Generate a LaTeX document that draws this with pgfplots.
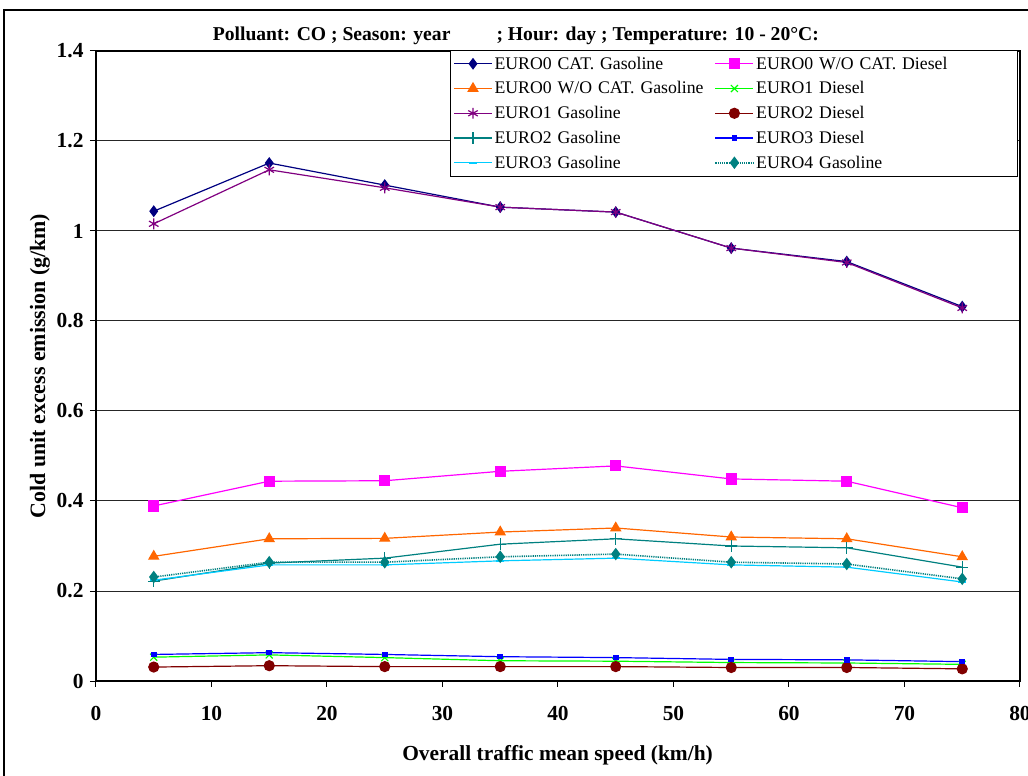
\documentclass[border=0pt]{standalone}
\usepackage{pgfplots}
\pgfplotsset{compat=1.18}
\usepackage{fontspec}
\setmainfont{Liberation Serif}
\definecolor{cNavy}{RGB}{0,0,128}
\definecolor{cMag}{RGB}{255,0,255}
\definecolor{cOra}{RGB}{255,102,0}
\definecolor{cGre}{RGB}{0,255,0}
\definecolor{cPur}{RGB}{128,0,128}
\definecolor{cDRed}{RGB}{128,0,0}
\definecolor{cTeal}{RGB}{0,128,128}
\definecolor{cBlue}{RGB}{0,0,255}
\definecolor{cCyan}{RGB}{0,204,255}
\begin{document}
\begin{tikzpicture}
\useasboundingbox (-96bp,-95bp) rectangle (932bp,681bp);
\begin{axis}[
  scale only axis, width=924bp, height=630bp,
  xmin=0, xmax=80, ymin=0, ymax=1.4,
  xtick={0,10,...,80}, ytick={0,0.2,0.4,0.6,0.8,1,1.2,1.4},
  axis line style={line width=1.2bp, black},
  tick style={line width=1bp, black},
  tick align=outside, major tick length=6bp,
  xtick pos=bottom, ytick pos=left,
  ymajorgrids, major grid style={line width=1bp, black!85},
  /pgf/number format/assume math mode=true,
  ticklabel style={font=\bfseries\fontsize{21.5}{22}\selectfont},
  xticklabel style={yshift=-16bp},
  yticklabel style={xshift=-3bp},
  xlabel={Overall traffic mean speed (km/h)},
  ylabel={Cold unit excess emission (g/km)},
  every axis x label/.style={at={(axis description cs:0.4995,-0.1175)}, anchor=center, font=\bfseries\fontsize{21.5}{22}\selectfont},
  every axis y label/.style={at={(axis description cs:-0.0606,0.5)}, anchor=center, rotate=90, font=\bfseries\fontsize{22}{22}\selectfont},
  every axis plot/.append style={line width=1.2bp},
  every mark/.append style={yscale=1.35},
  legend columns=2,
  legend cell align=left,
  legend style={at={(354bp,631bp)}, anchor=north west, draw=black, line width=0.8bp,
    font=\fontsize{17.8}{20}\selectfont, inner xsep=3bp, inner ysep=1bp, row sep=0pt,
    nodes={inner xsep=2bp, inner ysep=0pt, minimum height=24.75bp, text width=210bp, anchor=west},
    /tikz/column 2/.style={column sep=8bp},
    /tikz/column 4/.style={nodes={text width=256bp}}},
  legend image code/.code={
    \draw[mark repeat=2,mark phase=2,#1] plot coordinates {(0bp,0bp) (19bp,0bp) (38bp,0bp)};
  },
]
\addplot[color=cNavy, mark=diamond*, mark size=5, mark options={solid,fill=cNavy}] coordinates {
(5,1.044) (15,1.151) (25,1.102) (35,1.053) (45,1.042) (55,0.962) (65,0.932) (75,0.832)};
\addlegendentry{EURO0 CAT. Gasoline}
\addplot[color=cMag, mark=square*, mark size=5, mark options={solid,fill=cMag}] coordinates {
(5,0.389) (15,0.444) (25,0.445) (35,0.466) (45,0.478) (55,0.449) (65,0.444) (75,0.385)};
\addlegendentry{EURO0 W/O CAT. Diesel}
\addplot[color=cOra, mark=triangle*, mark size=5.5, mark options={solid,fill=cOra}] coordinates {
(5,0.277) (15,0.316) (25,0.317) (35,0.331) (45,0.340) (55,0.320) (65,0.316) (75,0.276)};
\addlegendentry{EURO0 W/O CAT. Gasoline}
\addplot[color=cGre, mark=x, mark size=5, mark options={solid}] coordinates {
(5,0.053) (15,0.058) (25,0.052) (35,0.045) (45,0.044) (55,0.041) (65,0.040) (75,0.037)};
\addlegendentry{EURO1 Diesel}
\addplot[color=cPur, mark=asterisk, mark size=5.5, mark options={solid}] coordinates {
(5,1.016) (15,1.136) (25,1.096) (35,1.053) (45,1.042) (55,0.962) (65,0.930) (75,0.829)};
\addlegendentry{EURO1 Gasoline}
\addplot[color=cDRed, mark=*, mark size=5, mark options={solid,fill=cDRed}] coordinates {
(5,0.031) (15,0.034) (25,0.032) (35,0.032) (45,0.032) (55,0.030) (65,0.030) (75,0.027)};
\addlegendentry{EURO2 Diesel}
\addplot[color=cTeal, mark=+, mark size=6, mark options={solid}] coordinates {
(5,0.222) (15,0.262) (25,0.273) (35,0.304) (45,0.316) (55,0.300) (65,0.296) (75,0.253)};
\addlegendentry{EURO2 Gasoline}
\addplot[color=cBlue, mark=square*, mark size=2.2, mark options={solid,fill=cBlue}] coordinates {
(5,0.059) (15,0.063) (25,0.059) (35,0.054) (45,0.052) (55,0.048) (65,0.047) (75,0.043)};
\addlegendentry{EURO3 Diesel}
\addplot[color=cCyan, mark=-, mark size=4, mark options={solid,line width=2.5bp}] coordinates {
(5,0.224) (15,0.258) (25,0.258) (35,0.267) (45,0.273) (55,0.258) (65,0.253) (75,0.220)};
\addlegendentry{EURO3 Gasoline}
\addplot[color=cTeal, densely dotted, line width=1.6bp, mark=diamond*, mark size=5, mark options={solid,fill=cTeal}] coordinates {
(5,0.231) (15,0.264) (25,0.264) (35,0.276) (45,0.282) (55,0.264) (65,0.260) (75,0.227)};
\addlegendentry{EURO4 Gasoline}
\end{axis}
\node[anchor=base east, font=\bfseries\fontsize{19.7}{20}\selectfont] at (358bp,640bp) {Polluant: CO ; Season: year};
\node[anchor=base west, font=\bfseries\fontsize{19.7}{20}\selectfont] at (397bp,640bp) {; Hour: day ; Temperature: 10 - 20°C:};
\draw[line width=1.2bp] (-92bp,-100bp) -- (-92bp,671bp) -- (940bp,671bp);
\end{tikzpicture}
\end{document}
